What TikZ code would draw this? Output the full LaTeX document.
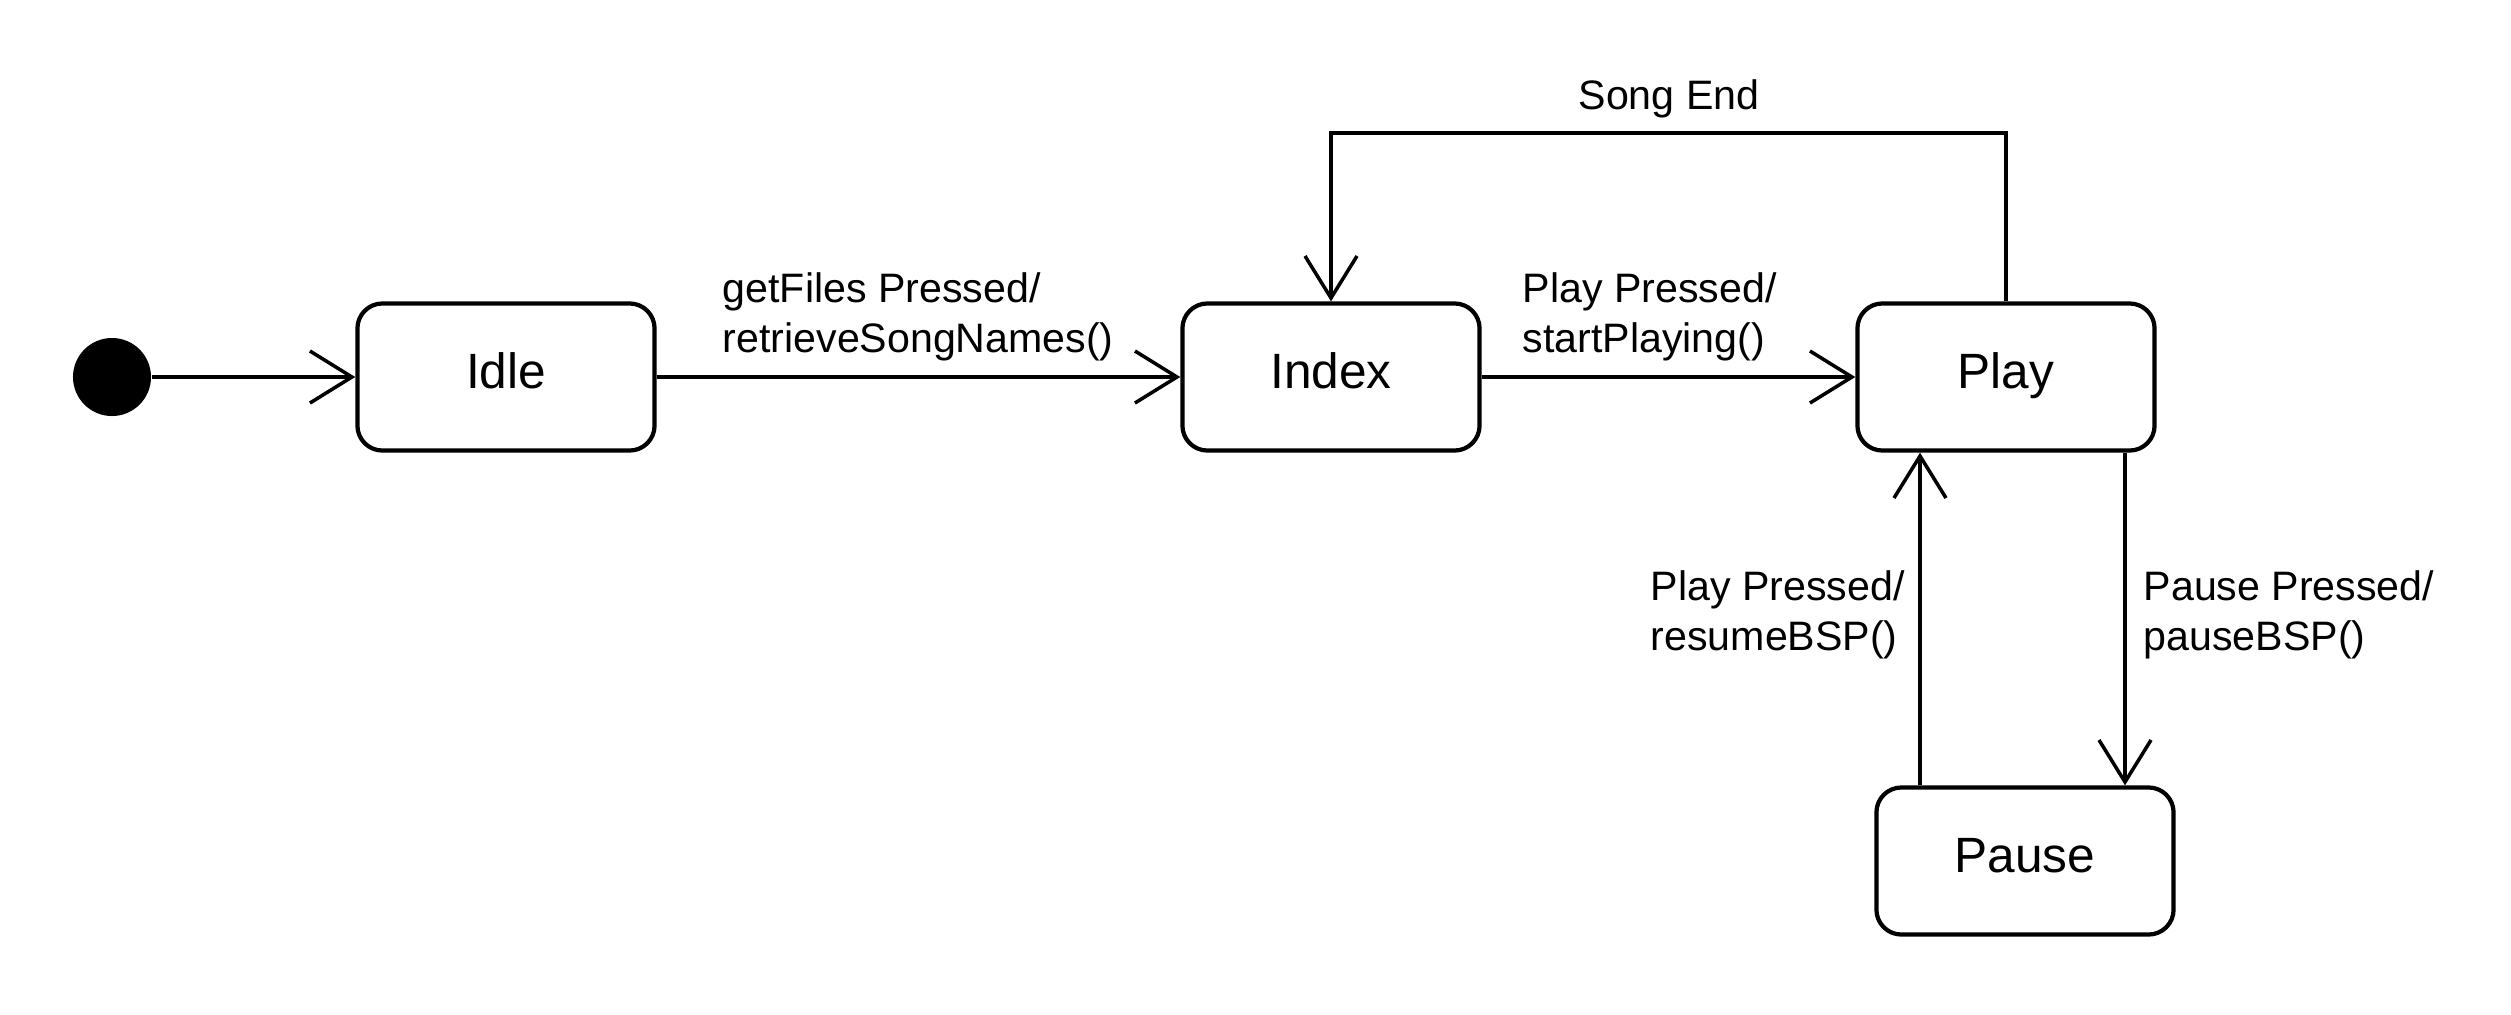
\documentclass[tikz,border=0pt]{standalone}
\usepackage{fontspec}
\setmainfont{Liberation Sans}
\usetikzlibrary{arrows.meta}
\tikzset{
  statebox/.style={draw, line width=1.2pt, rounded corners=0.25cm, minimum width=2.97cm, minimum height=1.47cm,
    inner sep=0pt, text height=0.35cm, text depth=0.13cm, font=\fontsize{14.1}{17}\selectfont},
  arr/.style={line width=1pt, -{Straight Barb[length=0.42cm, width=0.52cm, line width=1pt]}},
  lbl/.style={font=\fontsize{11.7}{14}\selectfont, align=left, inner sep=0pt},
}
\begin{document}
\begin{tikzpicture}[x=0.01cm, y=-0.01cm]
\useasboundingbox[fill=white] (0,0) rectangle (2511,1014);
\node[circle, fill=black, minimum size=0.78cm, inner sep=0pt] (start) at (112,377) {};
\node[statebox] (idle) at (506,377) {Idle};
\node[statebox] (index) at (1331,377) {Index};
\node[statebox] (play) at (2006,377) {Play};
\node[statebox] (pause) at (2025,861) {Pause};
\coordinate (top) at (1669,133);
\coordinate (upx) at (1920,0);
\coordinate (downx) at (2125,0);
\draw[arr] (start) -- (idle);
\draw[arr] (idle) -- (index);
\draw[arr] (index) -- (play);
\draw[arr] (play.north) |- (top) -| (index.north);
\draw[arr] (upx |- pause.north) -- (upx |- play.south);
\draw[arr] (downx |- play.south) -- (downx |- pause.north);
\node[lbl, anchor=base] (lsong) at (1669,109) {Song End};
\node[lbl, anchor=base west] (lget) at (722,352) {getFiles Pressed/\\retrieveSongNames()};
\node[lbl, anchor=base west] (lplay) at (1522,352) {Play Pressed/\\startPlaying()};
\node[lbl, anchor=base west] (lres) at (1650,650) {Play Pressed/\\resumeBSP()};
\node[lbl, anchor=base west] (lpau) at (2143,650) {Pause Pressed/\\pauseBSP()};
\end{tikzpicture}
\end{document}
